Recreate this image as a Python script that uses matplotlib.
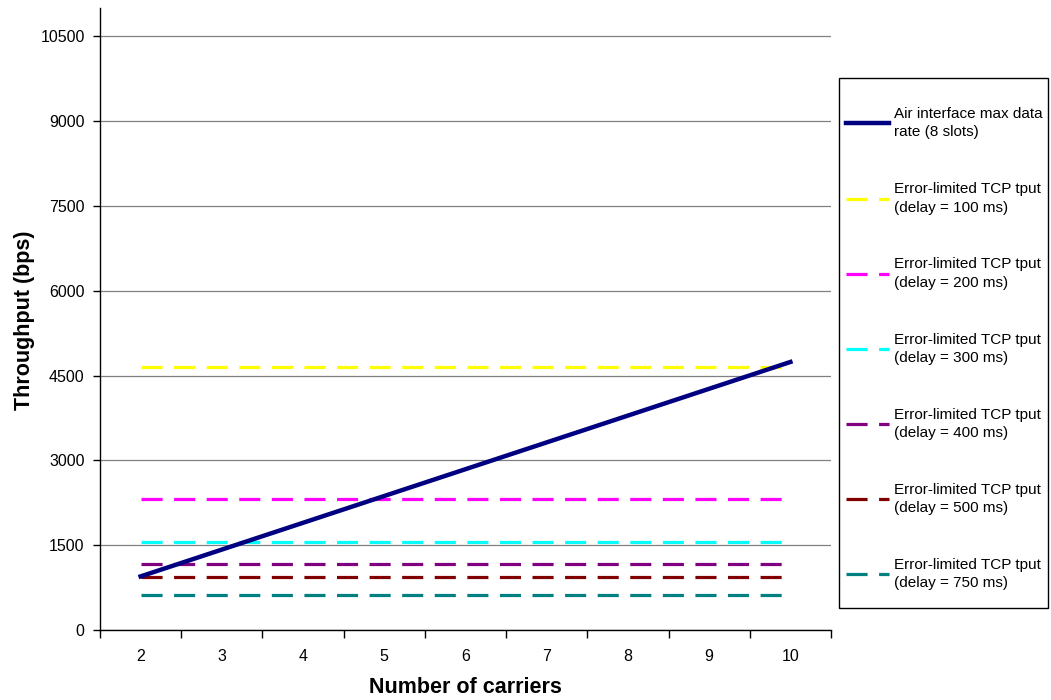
import matplotlib
matplotlib.use("Agg")
from matplotlib import pyplot as plt
from matplotlib.patches import Rectangle

plt.rcParams["font.family"] = ["Liberation Sans", "DejaVu Sans"]

carriers = [2, 3, 4, 5, 6, 7, 8, 9, 10]
air_rate = [948, 1422, 1896, 2370, 2844, 3318, 3792, 4266, 4740]

delay_labels = ["100", "200", "300", "400", "500", "750"]
tcp_tput = [4646, 2323, 1549, 1162, 929, 619]
tcp_colors = ["#FFFF00", "#FF00FF", "#00FFFF", "#800080", "#800000", "#008080"]

y_ticks = [0, 1500, 3000, 4500, 6000, 7500, 9000, 10500]

W, H = 1051, 700
fig = plt.figure(figsize=(W / 100, H / 100), dpi=100)
ax = fig.add_axes([100 / W, 1 - 630 / H, 731 / W, 622 / H])

ax.plot(carriers, air_rate, color="#000080", linewidth=3.2,
        label="Air interface max data\nrate (8 slots)", zorder=4)

for delay, val, col in zip(delay_labels, tcp_tput, tcp_colors):
    ax.plot(carriers, [val] * len(carriers), color=col, linewidth=2.3,
            linestyle=(0, (6.6, 3.6)), dash_capstyle="butt",
            label="Error-limited TCP tput\n(delay = %s ms)" % delay, zorder=3)

ax.set_xlim(carriers[0] - 0.5, carriers[-1] + 0.5)
ax.set_ylim(0, 11000)
ax.set_yticks(y_ticks)
ax.set_yticklabels([str(v) for v in y_ticks], fontsize=11.5)
ax.set_xticks([c - 0.5 for c in carriers] + [carriers[-1] + 0.5])
ax.set_xticklabels([])
ax.set_xticks(carriers, minor=True)
ax.set_xticklabels([str(c) for c in carriers], minor=True, fontsize=11.5)
ax.tick_params(axis="x", which="major", length=6, width=1, color="black", direction="out")
ax.tick_params(axis="x", which="minor", length=0, pad=14)
ax.tick_params(axis="y", length=5, width=1, direction="out", pad=6)

ax.grid(axis="y", color="#808080", linewidth=0.9)
ax.set_axisbelow(True)
for side in ["top", "right"]:
    ax.spines[side].set_visible(False)
for side in ["left", "bottom"]:
    ax.spines[side].set_color("black")
    ax.spines[side].set_linewidth(1.0)

ax.set_xlabel("Number of carriers", fontsize=15.5, fontweight="bold")
ax.set_ylabel("Throughput (bps)", fontsize=15.5, fontweight="bold")
ax.xaxis.set_label_coords(0.5, (630 - 677) / 622)
ax.yaxis.set_label_coords((35 - 100) / 731, 0.498)

# legend frame drawn separately, legend itself frameless
fig.patches.append(Rectangle((839 / W, 1 - 608 / H), 209 / W, 530 / H,
                             transform=fig.transFigure, facecolor="white",
                             edgecolor="black", linewidth=1.0, zorder=1))
leg = fig.legend(loc="upper left", bbox_to_anchor=(846 / W, 1 - 107 / H),
                 borderaxespad=0, borderpad=0, fontsize=11, frameon=False,
                 handlelength=2.8, handletextpad=0.35, labelspacing=2.8)
for t in leg.get_texts():
    t.set_linespacing(1.4)

fig.savefig("out.png", dpi=100)
